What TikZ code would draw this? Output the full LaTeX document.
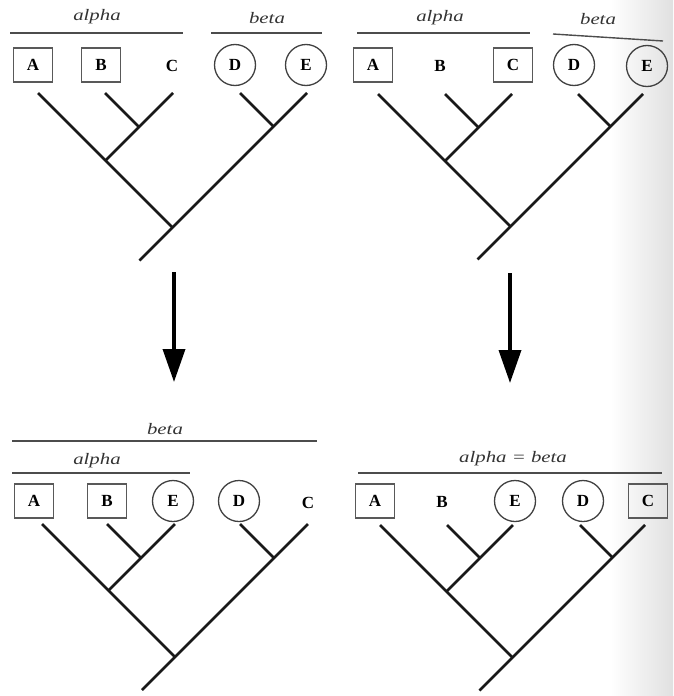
\documentclass[tikz,border=0pt]{standalone}
\usepackage{fontspec}
\usepackage{graphicx}
\setmainfont{Liberation Serif}
\usetikzlibrary{arrows.meta,calc}
\tikzset{
  treeline/.style={line width=2.7pt,black!90},
  grpline/.style={line width=1.4pt,black!70},
  taxbox/.style={draw=black!65,line width=1.3pt,minimum width=39pt,minimum height=34pt,inner sep=0pt,font=\fontsize{17}{17}\selectfont\bfseries},
  taxcirc/.style={draw=black!75,line width=1.3pt,circle,minimum size=41pt,inner sep=0pt,font=\fontsize{17}{17}\selectfont\bfseries},
  taxplain/.style={inner sep=0pt,font=\fontsize{17}{17}\selectfont\bfseries},
  grplabel/.style={inner sep=0pt,text=black!80,font=\fontsize{16}{16}\selectfont\itshape},
  bigarrow/.style={line width=3.6pt,-{Triangle[width=22pt,length=33pt]}}
}
\newcommand\grp[1]{\scalebox{1.3}[1]{#1}}
% #1 prefix, #2..#6 tip x positions, #7 tip y
\newcommand\cladetree[7]{%
  \coordinate (#1t1) at (#2,#7);
  \coordinate (#1t2) at (#3,#7);
  \coordinate (#1t3) at (#4,#7);
  \coordinate (#1t4) at (#5,#7);
  \coordinate (#1t5) at (#6,#7);
  \coordinate (#1n23) at ({(#3+#4)/2},{#7+(#4-#3)/2});
  \coordinate (#1n123) at ({(#2+#4)/2},{#7+(#4-#2)/2});
  \coordinate (#1n45) at ({(#5+#6)/2},{#7+(#6-#5)/2});
  \coordinate (#1r) at ({(#2+#6)/2},{#7+(#6-#2)/2});
  \coordinate (#1s) at ($(#1r)+(-33,33)$);
  \draw[treeline] (#1t1) -- (#1r);
  \draw[treeline] (#1t5) -- (#1s);
  \draw[treeline] (#1t3) -- (#1n123);
  \draw[treeline] (#1t2) -- (#1n23);
  \draw[treeline] (#1t4) -- (#1n45);
}
\begin{document}
\begin{tikzpicture}[x=1pt,y=-1pt]
\useasboundingbox (0,0) rectangle (673,696);
% scan shadow on right edge
\shade[left color=white,right color=black!12] (610,0) rectangle (673,696);

% ---------- top left ----------
\node[grplabel] (tlal) at (97,17) {\grp{alpha}};
\coordinate (tlal1) at (10,33); \coordinate (tlal2) at (183,33);
\draw[grpline] (tlal1) -- (tlal2);
\node[grplabel] (tlbe) at (267,18) {\grp{beta}};
\coordinate (tlbe1) at (211,33); \coordinate (tlbe2) at (322,33);
\draw[grpline] (tlbe1) -- (tlbe2);
\node[taxbox] (tlA) at (33,65) {A};
\node[taxbox] (tlB) at (101,65) {B};
\node[taxplain] (tlC) at (172,66) {C};
\node[taxcirc] (tlD) at (235,65) {D};
\node[taxcirc] (tlE) at (306,65) {E};
\cladetree{tl}{38}{105}{173}{240}{307}{93}

% ---------- top right ----------
\node[grplabel] (tral) at (440,18) {\grp{alpha}};
\coordinate (tral1) at (357,33); \coordinate (tral2) at (530,33);
\draw[grpline] (tral1) -- (tral2);
\node[grplabel] (trbe) at (598,19) {\grp{beta}};
\coordinate (trbe1) at (553,34); \coordinate (trbe2) at (663,41);
\draw[grpline] (trbe1) -- (trbe2);
\node[taxbox] (trA) at (373,65) {A};
\node[taxplain] (trB) at (440,66) {B};
\node[taxbox] (trC) at (513,65) {C};
\node[taxcirc] (trD) at (574,65) {D};
\node[taxcirc] (trE) at (647,66) {E};
\cladetree{tr}{378}{445}{512}{578}{643}{94}

% ---------- arrows ----------
\coordinate (la1) at (174,272); \coordinate (la2) at (174,382);
\draw[bigarrow] (la1) -- (la2);
\coordinate (ra1) at (510,273); \coordinate (ra2) at (510,383);
\draw[bigarrow] (ra1) -- (ra2);

% ---------- bottom left ----------
\node[grplabel] (blbe) at (165,429) {\grp{beta}};
\coordinate (blbe1) at (12,441); \coordinate (blbe2) at (317,441);
\draw[grpline] (blbe1) -- (blbe2);
\node[grplabel] (blal) at (97,461) {\grp{alpha}};
\coordinate (blal1) at (12,473); \coordinate (blal2) at (190,473);
\draw[grpline] (blal1) -- (blal2);
\node[taxbox] (blA) at (34,501) {A};
\node[taxbox] (blB) at (107,501) {B};
\node[taxcirc] (blE) at (173,501) {E};
\node[taxcirc] (blD) at (239,501) {D};
\node[taxplain] (blC) at (308,503) {C};
\cladetree{bl}{42}{107}{175}{240}{308}{524}

% ---------- bottom right ----------
\node[grplabel] (brab) at (513,459) {\grp{alpha = beta}};
\coordinate (brab1) at (358,473); \coordinate (brab2) at (662,473);
\draw[grpline] (brab1) -- (brab2);
\node[taxbox] (brA) at (375,501) {A};
\node[taxplain] (brB) at (442,502) {B};
\node[taxcirc] (brE) at (515,501) {E};
\node[taxcirc] (brD) at (583,501) {D};
\node[taxbox] (brC) at (648,501) {C};
\cladetree{br}{380}{447}{513}{580}{645}{525}
\end{tikzpicture}
\end{document}
